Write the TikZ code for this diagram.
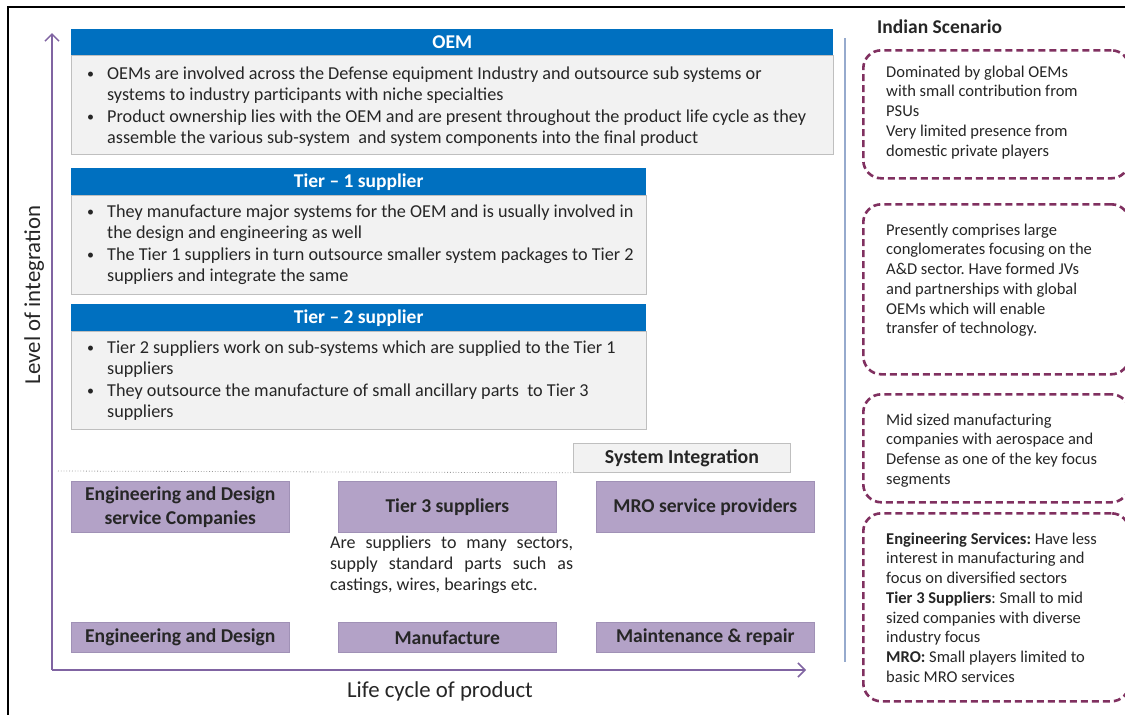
\documentclass[tikz,border=0pt]{standalone}
\usepackage{fontspec}
\setmainfont{Carlito}
\usetikzlibrary{arrows.meta}
\frenchspacing
\definecolor{hdrblue}{RGB}{0,112,192}
\definecolor{bodygray}{RGB}{242,242,242}
\definecolor{bordergray}{RGB}{191,191,191}
\definecolor{boxpurple}{RGB}{179,162,199}
\definecolor{boxpurpleline}{RGB}{160,145,182}
\definecolor{axispurple}{RGB}{128,100,162}
\definecolor{dashmaroon}{RGB}{128,48,96}
\definecolor{seplinecol}{RGB}{150,170,205}
\definecolor{txt}{RGB}{38,38,38}
\tikzset{
  hdr/.style={fill=hdrblue, draw=none, inner sep=0pt, text=white, anchor=north west,
    font=\fontsize{19.5}{23}\selectfont\bfseries},
  bodybox/.style={fill=bodygray, draw=bordergray, line width=0.8pt, inner sep=0pt, anchor=north west},
  pbox/.style={fill=boxpurple, draw=boxpurpleline, line width=0.6pt, inner sep=0pt, anchor=north west,
    align=center, text=txt, font=\fontsize{19.6}{24}\selectfont\bfseries},
  bullettext/.style={anchor=base west, inner sep=0pt, align=left, text=txt,
    font=\fontsize{18.2}{21.7}\selectfont\frenchspacing},
  sidetext/.style={anchor=base west, inner sep=0pt, align=left, text=txt,
    font=\fontsize{16.5}{19.75}\selectfont\frenchspacing},
  dbox/.style={draw=dashmaroon, line width=2.6pt, dash pattern=on 7pt off 4pt,
    rounded corners=18pt, inner sep=0pt, anchor=north west, minimum width=266pt},
  axis/.style={draw=axispurple, line width=1.5pt, -{Straight Barb[length=7pt,width=14pt,line width=1.5pt]}},
}
\newcommand{\bul}{\makebox[20pt][l]{\raisebox{0.5pt}{\fontsize{14}{14}\selectfont•}}}
\newcommand{\ind}{\hspace*{20pt}}
\newcommand{\jline}[1]{\makebox[243pt][s]{#1}}
\begin{document}
\begin{tikzpicture}[x=1pt,y=-1pt]
\useasboundingbox (0,0) rectangle (1125,715);
\fill[white] (0,0) rectangle (1125,715);
% frame
\draw[line width=2pt, black] (8,715) -- (8,7) -- (1125,7);

% axes
\coordinate (origin) at (52,670);
\coordinate (ytip) at (52,33);
\coordinate (xtip) at (806,670);
\draw[axis] (origin) -- (ytip);
\draw[axis] (origin) -- (xtip);
\node[rotate=90, anchor=base, inner sep=0pt, text=txt, font=\fontsize{22.8}{26}\selectfont] (ylab) at (40,295) {Level of integration};
\node[anchor=base, inner sep=0pt, text=txt, font=\fontsize{22.8}{26}\selectfont] (xlab) at (440,697) {Life cycle of product};

% OEM
\node[bodybox, minimum width=762pt, minimum height=99pt] (oemb) at (71,55) {};
\node[hdr, minimum width=762pt, minimum height=26pt] (oemh) at (71,29) {OEM};
\node[bullettext] (oemt1) at (87,100.7) {\bul OEMs are involved across the Defense equipment Industry and outsource sub systems or\\\ind systems to industry participants with niche specialties};
\node[bullettext] (oemt2) at (87,143.7) {\bul Product ownership lies with the OEM and are present throughout the product life cycle as they\\\ind assemble the various sub-system\ \ and system components into the final product};

% Tier 1
\node[bodybox, minimum width=575pt, minimum height=99pt] (t1b) at (71,195) {};
\node[hdr, minimum width=575pt, minimum height=27pt] (t1h) at (71,168) {Tier -- 1 supplier};
\node[bullettext] (t1t1) at (87,238.7) {\bul They manufacture major systems for the OEM and is usually involved in\\\ind the design and engineering as well};
\node[bullettext] (t1t2) at (87,281.7) {\bul The Tier 1 suppliers in turn outsource smaller system packages to Tier 2\\\ind suppliers and integrate the same};

% Tier 2
\node[bodybox, minimum width=575pt, minimum height=98pt] (t2b) at (71,331) {};
\node[hdr, minimum width=575pt, minimum height=27pt] (t2h) at (71,304) {Tier -- 2 supplier};
\node[bullettext] (t2t1) at (87,374.7) {\bul Tier 2 suppliers work on sub-systems which are supplied to the Tier 1\\\ind suppliers};
\node[bullettext] (t2t2) at (87,417.7) {\bul They outsource the manufacture of small ancillary parts\ \ to Tier 3\\\ind suppliers};

% System integration and dotted line
\node[bodybox, minimum width=217pt, minimum height=29pt, text=txt,
  font=\fontsize{19.8}{23}\selectfont\bfseries] (sysint) at (573,443) {System Integration};
\coordinate (dotstart) at (58,471);
\draw[bordergray!80!black, line width=0.8pt, dotted] (dotstart) -- (sysint.south west);

% purple boxes
\node[pbox, minimum width=218pt, minimum height=51pt] (eds) at (71,481) {Engineering and Design\\service Companies};
\node[pbox, minimum width=218pt, minimum height=51pt] (t3s) at (338,481) {Tier 3 suppliers};
\node[pbox, minimum width=218pt, minimum height=51pt] (mro) at (596,481) {MRO service providers};
\node[anchor=base west, inner sep=0pt, align=left, text=txt, font=\fontsize{18}{21}\selectfont\frenchspacing] (t3desc) at (330,590)
  {\jline{Are suppliers to many sectors,}\\\jline{supply standard parts such as}\\castings, wires, bearings etc.};
\node[pbox, minimum width=218pt, minimum height=30pt] (ed) at (71,622) {Engineering and Design};
\node[pbox, minimum width=218pt, minimum height=30pt] (man) at (338,622) {Manufacture};
\node[pbox, minimum width=218pt, minimum height=30pt] (mr) at (596,622) {Maintenance \& repair};

% separator
\coordinate (septop) at (845,38);
\coordinate (sepbot) at (845,662);
\draw[seplinecol, line width=2pt] (septop) -- (sepbot);

% Indian scenario
\node[anchor=west, inner sep=0pt, text=txt, font=\fontsize{19.5}{22}\selectfont\bfseries] (ind) at (877,27) {Indian Scenario};
\node[dbox, minimum height=128pt] (ib1) at (862,49) {};
\node[dbox, minimum height=170pt] (ib2) at (862,203) {};
\node[dbox, minimum height=108pt] (ib3) at (862,393) {};
\node[dbox, minimum height=188pt] (ib4) at (862,512) {};
\node[sidetext] (it1) at (886,156) {Dominated by global OEMs\\with small contribution from\\PSUs\\Very limited presence from\\domestic private players};
\node[sidetext] (it2) at (886,333.75) {Presently comprises large\\conglomerates focusing on the\\A\&D sector. Have formed JVs\\and partnerships with global\\OEMs which will enable\\transfer of technology.};
\node[sidetext] (it3) at (886,484.25) {Mid sized manufacturing\\companies with aerospace and\\Defense as one of the key focus\\segments};
\node[sidetext] (it4) at (886,682.25) {\textbf{Engineering Services:} Have less\\interest in manufacturing and\\focus on diversified sectors\\\textbf{Tier 3 Suppliers}: Small to mid\\sized companies with diverse\\industry focus\\\textbf{MRO:} Small players limited to\\basic MRO services};
\end{tikzpicture}
\end{document}
